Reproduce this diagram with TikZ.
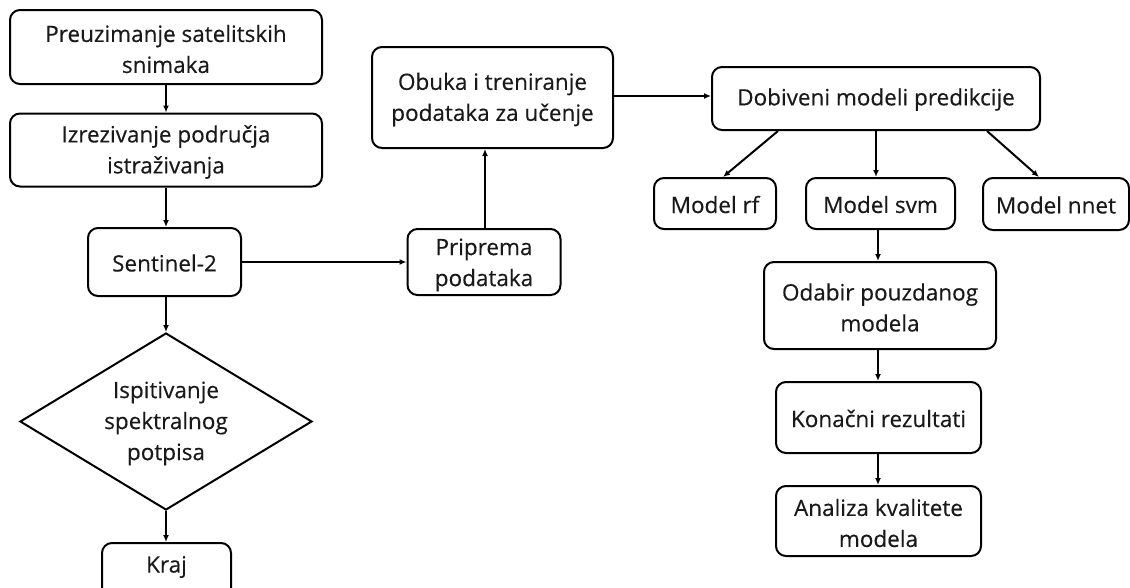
\documentclass[tikz,border=0pt]{standalone}
\usepackage{fontspec}
\setmainfont{Open Sans}
\newfontfamily\medfont{Open Sans}[FakeBold=0.3]
\usetikzlibrary{shapes.geometric,arrows.meta}
\begin{document}
\begin{tikzpicture}[x=1pt,y=-1pt,
  txt/.style={font=\medfont\fontsize{22.5}{31}\selectfont, text=black!90, align=center, inner sep=0pt},
  box/.style={draw, line width=2pt, rounded corners=10pt, inner sep=0pt},
  arr/.style={line width=2pt, -{Latex[length=7pt,width=6pt]}}]
\clip (0,0) rectangle (1130,587);
\fill[white] (0,0) rectangle (1130,587);
\node[box, minimum width=312pt, minimum height=74pt] (pre) at (166,47) {};
\node[txt] (pret) at ([yshift=-2pt]pre.center) {Preuzimanje satelitskih\\snimaka};
\node[box, minimum width=312pt, minimum height=73pt] (izr) at (166,150) {};
\node[txt] (izrt) at ([yshift=-2pt]izr.center) {Izrezivanje područja\\istraživanja};
\node[box, minimum width=153pt, minimum height=68pt] (sen) at (164.5,262) {};
\node[txt] (sent) at ([yshift=-1pt]sen.center) {Sentinel-2};
\node[draw, line width=2pt, shape=diamond, aspect=1.65, minimum width=292pt, minimum height=177pt,
  inner sep=0pt] (isp) at (166,421.5) {};
\node[txt] (ispt) at ([yshift=-2pt]isp.center) {Ispitivanje\\spektralnog\\potpisa};
\node[box, minimum width=129pt, minimum height=80pt] (kraj) at (166.5,583) {};
\node[txt] (krajt) at (166.5,567) {Kraj};
\node[box, minimum width=153pt, minimum height=66pt] (pri) at (484,262) {};
\node[txt] (prit) at ([yshift=-3pt]pri.center) {Priprema\\podataka};
\node[box, minimum width=241pt, minimum height=101pt] (obu) at (492.5,97.5) {};
\node[txt] (obut) at ([yshift=-2pt]obu.center) {Obuka i treniranje\\podataka za učenje};
\node[box, minimum width=328pt, minimum height=63pt] (dob) at (876,98.5) {};
\node[txt] (dobt) at ([yshift=-1pt]dob.center) {Dobiveni modeli predikcije};
\node[box, minimum width=122pt, minimum height=51pt] (rf) at (715,203.5) {};
\node[txt] (rft) at ([yshift=-1pt]rf.center) {Model rf};
\node[box, minimum width=149pt, minimum height=51pt] (svm) at (880.5,203.5) {};
\node[txt] (svmt) at ([yshift=-1pt]svm.center) {Model svm};
\node[box, minimum width=146pt, minimum height=52pt] (nnet) at (1056,204) {};
\node[txt] (nnett) at ([yshift=-1pt]nnet.center) {Model nnet};
\node[box, minimum width=232pt, minimum height=87pt] (oda) at (880,305.5) {};
\node[txt] (odat) at ([yshift=-2pt]oda.center) {Odabir pouzdanog\\modela};
\node[box, minimum width=205pt, minimum height=71pt] (kon) at (878.5,417.5) {};
\node[txt] (kont) at ([yshift=-1pt]kon.center) {Konačni rezultati};
\node[box, minimum width=205pt, minimum height=70pt] (ana) at (878.5,521) {};
\node[txt] (anat) at ([yshift=-2pt]ana.center) {Analiza kvalitete\\modela};
\draw[arr] (pre.south -| 166,0) -- (izr.north -| 166,0);
\draw[arr] (izr.south -| 166,0) -- (sen.north -| 166,0);
\draw[arr] (sen.south -| 166,0) -- (isp.north);
\draw[arr] (isp.south) -- (kraj.north -| 166,0);
\draw[arr] (sen.east) -- (pri.west);
\draw[arr] (pri.north -| 485,0) -- (obu.south -| 485,0);
\draw[arr] (obu.east |- 0,96) -- (dob.west |- 0,96);
\draw[arr] (dob.south -| 778,0) -- (rf.north -| 723,0);
\draw[arr] (dob.south -| 876,0) -- (svm.north -| 876,0);
\draw[arr] (dob.south -| 987,0) -- (nnet.north -| 1039,0);
\draw[arr] (svm.south -| 878,0) -- (oda.north -| 878,0);
\draw[arr] (oda.south -| 878,0) -- (kon.north -| 878,0);
\draw[arr] (kon.south -| 878,0) -- (ana.north -| 878,0);
\end{tikzpicture}
\end{document}
